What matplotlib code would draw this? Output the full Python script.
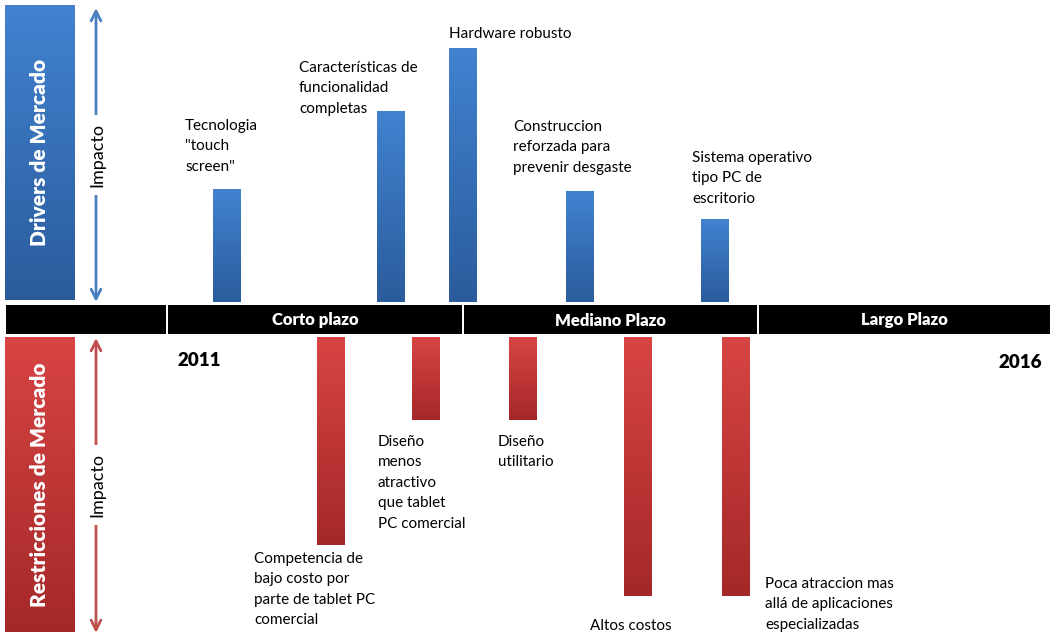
import numpy as np
import matplotlib
matplotlib.use("Agg")
import matplotlib.pyplot as plt
from matplotlib.colors import LinearSegmentedColormap
from matplotlib.patches import Rectangle

# bar data (impact measured from the timeline band, in px of the original slide)
DRIVER_LABELS = [
    'Tecnologia\n"touch\nscreen"',
    "Características de\nfuncionalidad\ncompletas",
    "Hardware robusto",
    "Construccion\nreforzada para\nprevenir desgaste",
    "Sistema operativo\ntipo PC de\nescritorio",
]
DRIVER_X = [227, 391, 463, 580, 715]
DRIVER_IMPACT = [113, 191, 254, 111, 83]

RESTR_LABELS = [
    "Competencia de\nbajo costo por\nparte de tablet PC\ncomercial",
    "Diseño\nmenos\natractivo\nque tablet\nPC comercial",
    "Diseño\nutilitario",
    "Altos costos",
    "Poca atraccion mas\nallá de aplicaciones\nespecializadas",
]
RESTR_X = [331, 426, 523, 638, 736]
RESTR_IMPACT = [208, 83, 83, 259, 259]

PERIODS = ["", "Corto plazo", "Mediano Plazo", "Largo Plazo"]
PERIOD_EDGES = [5, 167, 463, 758, 1051]
YEARS = ["2011", "2016"]

# label anchors (left x, top y)
DRIVER_TXT = [(185, 119), (299, 61), (449, 27), (513, 120), (692, 151)]
RESTR_TXT = [(254, 552), (378, 435), (498, 435), (590, 619), (765, 577)]

BAND_TOP, BAND_BOT = 305, 334
BLUE_TOP, BLUE_BOT = "#4282d0", "#2a5c9c"
RED_TOP, RED_BOT = "#d84444", "#a42828"
FONT = "Lato"


def gradient_fill(ax, patch, top, bottom):
    x0, y0 = patch.get_x(), patch.get_y()
    w, h = patch.get_width(), patch.get_height()
    ymin, ymax = min(y0, y0 + h), max(y0, y0 + h)
    cmap = LinearSegmentedColormap.from_list("g", [top, bottom])
    grad = np.linspace(0, 1, 256).reshape(-1, 1)
    im = ax.imshow(grad, cmap=cmap, extent=(x0, x0 + w, ymax, ymin),
                   origin="upper", aspect="auto", zorder=patch.get_zorder())
    im.set_clip_path(patch)


def main():
    fig = plt.figure(figsize=(10.51, 6.39), dpi=100)
    ax = fig.add_axes([0, 0, 1, 1])
    ax.set_xlim(0, 1051)
    ax.set_ylim(639, 0)
    ax.axis("off")

    # side panels
    for y0, y1, top, bot, title in [(5, 300, BLUE_TOP, BLUE_BOT, "Drivers de Mercado"),
                                    (337, 632, RED_TOP, RED_BOT, "Restricciones de Mercado")]:
        p = Rectangle((5, y0), 70, y1 - y0, facecolor="none", edgecolor="none")
        ax.add_patch(p)
        gradient_fill(ax, p, top, bot)
        ax.text(40, (y0 + y1) / 2, title, rotation=90, color="white", fontsize=15,
                fontweight="heavy", family=FONT, ha="center", va="center")

    # impact arrows
    for y0, y1, col, yc in [(8, 302, "#4a7ebf", 155), (338, 633, "#c0504d", 485)]:
        ax.annotate("", xy=(96, y0), xytext=(96, y1),
                    arrowprops=dict(arrowstyle="<->,head_length=0.7,head_width=0.35",
                                    color=col, lw=2, shrinkA=0, shrinkB=0))
        ax.text(97, yc, "Impacto", rotation=90, fontsize=13, family=FONT,
                ha="center", va="center",
                bbox=dict(facecolor="white", edgecolor="none", pad=6))

    # timeline band
    for i, name in enumerate(PERIODS):
        x0, x1 = PERIOD_EDGES[i], PERIOD_EDGES[i + 1]
        ax.add_patch(Rectangle((x0 + 1, BAND_TOP), x1 - x0 - 2, BAND_BOT - BAND_TOP,
                               facecolor="black", edgecolor="none"))
        if name:
            ax.text((x0 + x1) / 2, (BAND_TOP + BAND_BOT) / 2 + 1, name, color="white",
                    fontsize=12, fontweight="heavy", family=FONT,
                    ha="center", va="center")

    # drivers (up)
    bars = ax.bar(DRIVER_X, [-v for v in DRIVER_IMPACT], width=28, bottom=BAND_TOP - 3,
                  color="none", edgecolor="none")
    for b in bars:
        gradient_fill(ax, b, BLUE_TOP, BLUE_BOT)
    for lab, (tx, ty) in zip(DRIVER_LABELS, DRIVER_TXT):
        ax.text(tx, ty, lab, fontsize=11, family=FONT, ha="left", va="top",
                linespacing=1.58)

    # restrictions (down)
    bars = ax.bar(RESTR_X, RESTR_IMPACT, width=28, bottom=BAND_BOT + 3,
                  color="none", edgecolor="none")
    for b in bars:
        gradient_fill(ax, b, RED_TOP, RED_BOT)
    for lab, (tx, ty) in zip(RESTR_LABELS, RESTR_TXT):
        ax.text(tx, ty, lab, fontsize=11, family=FONT, ha="left", va="top",
                linespacing=1.58)

    ax.text(178, 360, YEARS[0], fontsize=13.5, fontweight="heavy", family=FONT,
            ha="left", va="center")
    ax.text(1042, 362, YEARS[1], fontsize=13.5, fontweight="heavy", family=FONT,
            ha="right", va="center")

    ax.set_xlim(0, 1051)
    ax.set_ylim(639, 0)
    fig.savefig("out.png", dpi=100, facecolor="white")


if __name__ == "__main__":
    main()
